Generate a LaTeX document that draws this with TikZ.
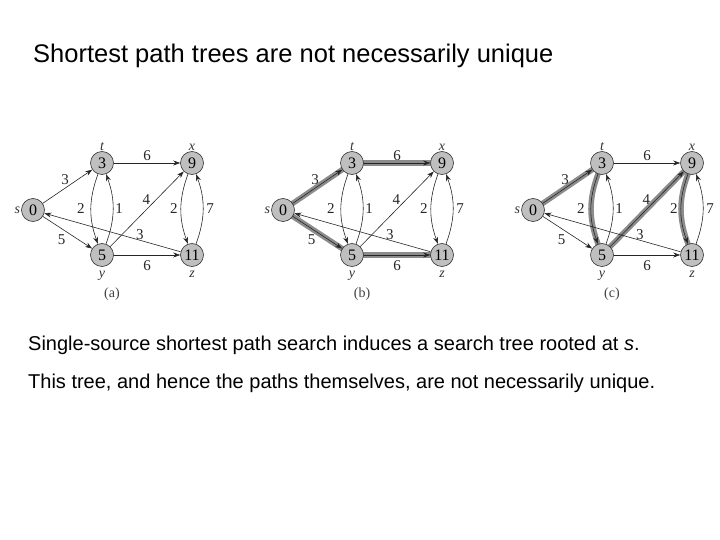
\documentclass[tikz,border=0pt]{standalone}
\usepackage{fontspec}
\setmainfont{Liberation Serif}
\newfontfamily\slidefont{Liberation Sans}
\usetikzlibrary{positioning,arrows.meta,backgrounds}

\begin{document}
\begin{tikzpicture}[
  x=1pt, y=-1pt,
  vertex/.style={circle, draw=black!80, fill=black!25, line width=0.6pt,
    minimum size=23pt, inner sep=0pt, font=\fontsize{16}{16}\selectfont},
  vl/.style={inner sep=1pt, font=\fontsize{14}{14}\selectfont\itshape, text=black!80},
  wt/.style={inner sep=1pt, font=\fontsize{15}{15}\selectfont, text=black!85},
  sublbl/.style={font=\fontsize{14}{14}\selectfont, text=black!75},
  edge/.style={-{Stealth[length=7pt,width=5pt]}, line width=0.6pt, draw=black!85},
  tree/.style={line width=5.5pt, draw=black!45, line cap=round}
]

\useasboundingbox (0,0) rectangle (720,540);

% ---- title and notes ----
\node[anchor=west, inner sep=0pt, font=\slidefont\fontsize{25.5}{25.5}\selectfont]
  (title) at (33,56) {Shortest path trees are not necessarily unique};
\node[anchor=west, inner sep=0pt, font=\slidefont\fontsize{20}{20}\selectfont]
  (line1) at (28,345) {Single-source shortest path search induces a search tree rooted at \textit{s}.};
\node[anchor=west, inner sep=0pt, font=\slidefont\fontsize{20}{20}\selectfont]
  (line2) at (28,383) {This tree, and hence the paths themselves, are not necessarily unique.};

% ---- three copies of the graph, shifted 250 apart ----
\foreach \p/\dx in {a/0, b/250, c/500} {
  \begin{scope}[xshift=\dx pt]
    \node[vertex] (\p s) at (33,210)  {0};
    \node[vertex] (\p t) at (102,163) {3};
    \node[vertex] (\p x) at (192,163) {9};
    \node[vertex] (\p y) at (102,255) {5};
    \node[vertex] (\p z) at (192,255) {11};

    \node[vl, left=0pt of \p s]  (\p ls) {s};
    \node[vl, above=-1pt of \p t] (\p lt) {t};
    \node[vl, above=-1pt of \p x] (\p lx) {x};
    \node[vl, below=3pt of \p y] (\p ly) {y};
    \node[vl, below=3pt of \p z] (\p lz) {z};
    \node[sublbl] (\p lbl) at (112,294) {(\p)};

    \draw[edge] (\p s) -- node[wt, pos=.45, above=2pt] {3} (\p t);
    \draw[edge] (\p s) -- node[wt, below left=1pt] {5} (\p y);
    \draw[edge] (\p t) -- node[wt, above=1pt] {6} (\p x);
    \draw[edge] (\p y) -- node[wt, below=4pt] {6} (\p z);
    \draw[edge] (\p y) -- node[wt, pos=.55, above left=-1pt] {4} (\p x);
    \draw[edge] (\p z) -- node[wt, pos=.3, above=-1pt] {3} (\p s);
    \draw[edge] (\p t) to[bend right=20] node[wt, left=5pt] {2} (\p y);
    \draw[edge] (\p y) to[bend right=20] node[wt, right=1pt] {1} (\p t);
    \draw[edge] (\p x) to[bend right=20] node[wt, left=2pt] {2} (\p z);
    \draw[edge] (\p z) to[bend right=20] node[wt, right=2pt] {7} (\p x);
  \end{scope}
}

% ---- shortest path tree edges, shaded underneath ----
\begin{scope}[on background layer]
  \foreach \u/\v in {bs/bt, bs/by, bt/bx, by/bz, cs/ct, cy/cx}
    \draw[tree] (\u) -- (\v);
  \foreach \u/\v in {ct/cy, cx/cz}
    \draw[tree] (\u) to[bend right=20] (\v);
\end{scope}

\end{tikzpicture}
\end{document}
